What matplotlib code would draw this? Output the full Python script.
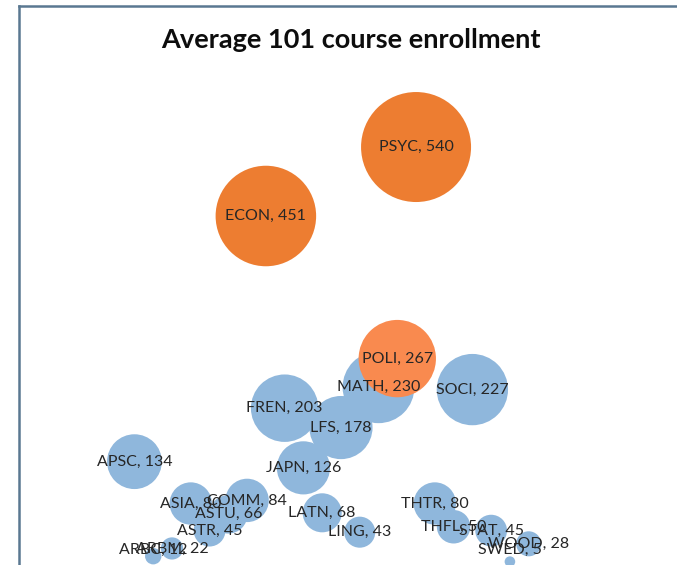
import numpy as np
import matplotlib.pyplot as plt
from matplotlib.lines import Line2D

# course codes in sheet order (x = row position), average 101 enrollment
courses = ['APSC', 'ARBC', 'ARBM', 'ASIA', 'ASTR', 'ASTU', 'COMM', 'ECON',
           'FREN', 'JAPN', 'LATN', 'LFS', 'LING', 'MATH', 'POLI', 'PSYC',
           'THTR', 'THFL', 'SOCI', 'STAT', 'SWED', 'WOOD']
enrollment = [134, 12, 22, 80, 45, 66, 84, 451,
              203, 126, 68, 178, 43, 230, 267, 540,
              80, 50, 227, 45, 5, 28]
highlight = {'PSYC': '#ED7D31', 'ECON': '#ED7D31', 'POLI': '#F98A4F'}

blue = '#8FB7DC'
x = np.arange(len(courses))
y = np.array(enrollment)
colors = [highlight.get(c, blue) for c in courses]

W, H = 677, 565
fig = plt.figure(figsize=(W / 100, H / 100), dpi=100)
ax = fig.add_axes([19 / W, 0, 1 - 19 / W, (H - 70) / H])
ax.set_xlim(-6.15, 28.9)
ax.set_ylim(0.65, 639.4)
ax.axis('off')

# bubble area proportional to enrollment (biggest ~110 px across)
size_scale = (2 * 55 * 0.72) ** 2 / max(enrollment)
ax.scatter(x, y, s=y * size_scale, c=colors, edgecolors='none', zorder=2, clip_on=False)

# Excel keeps labels inside the plot area, so the low ones get pushed up
label_floor = 20
for xi, yi, name in zip(x, y, courses):
    ax.text(xi, max(yi, label_floor), f"{name}, {yi}", ha='center', va='center',
            fontsize=11.5, family='Lato', color='#262626', zorder=3)

fig.text(351 / W, 1 - 40 / H, 'Average 101 course enrollment', ha='center', va='center',
         fontsize=19.5, fontweight='bold', family='Lato', color='#0d0d0d')

# chart frame, only left and top edges are in view
fx = 19 / W
fy = 1 - 6 / H
fig.add_artist(Line2D([fx, fx], [0, fy], transform=fig.transFigure, color='#5A7891', lw=1.8))
fig.add_artist(Line2D([fx, 1], [fy, fy], transform=fig.transFigure, color='#5A7891', lw=1.8))

fig.savefig('out.png', dpi=100, facecolor='white')
